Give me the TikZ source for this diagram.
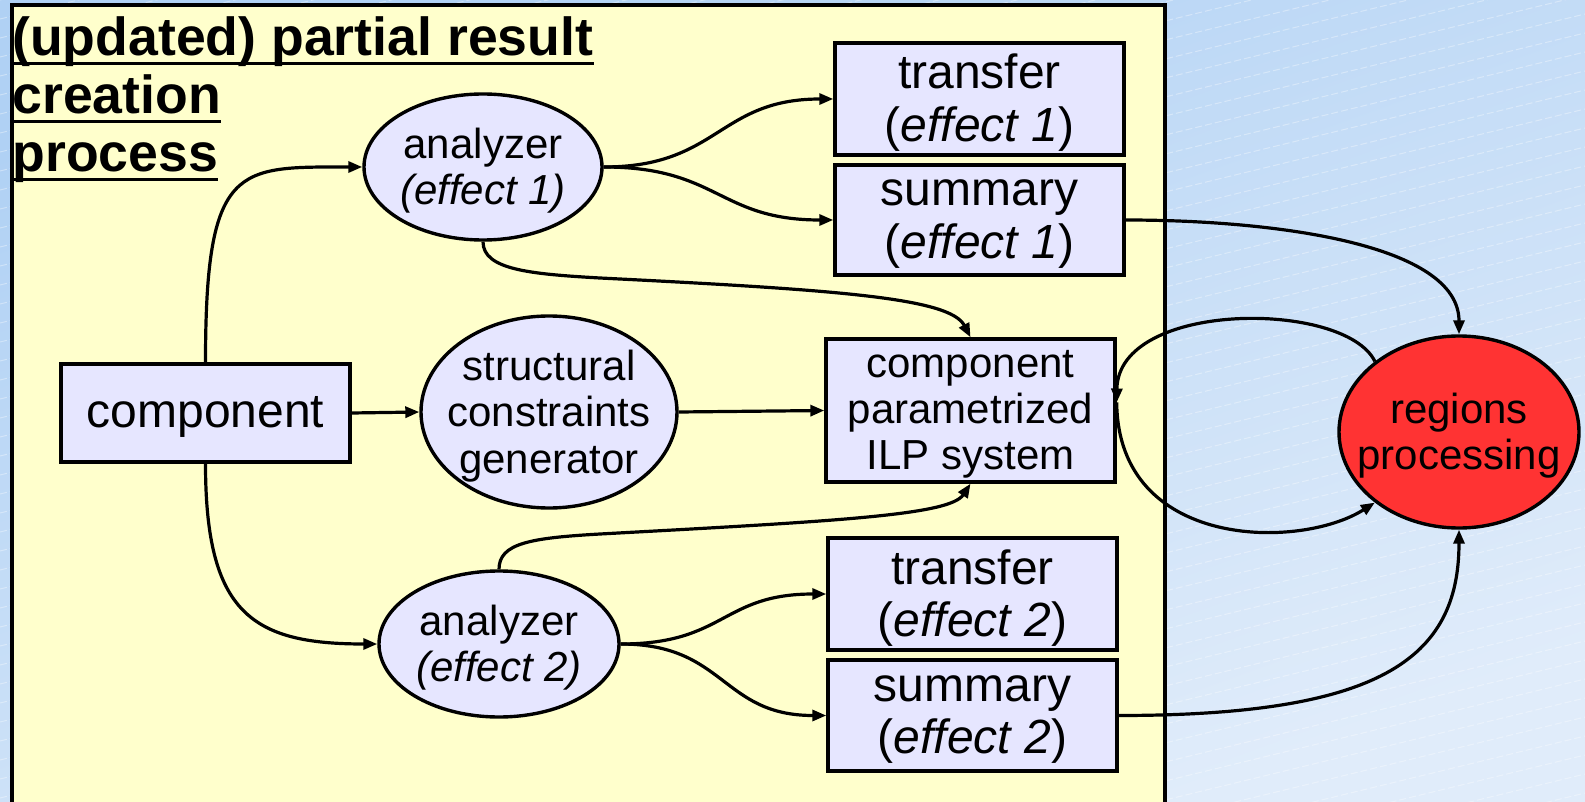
\documentclass[tikz,border=0pt]{standalone}
\usepackage{fontspec}
\setmainfont{Liberation Sans}
\usetikzlibrary{shapes.geometric,arrows.meta}

\definecolor{bgtop}{RGB}{176,209,244}
\definecolor{bgbot}{RGB}{224,236,250}
\definecolor{panel}{RGB}{255,255,204}
\definecolor{lav}{RGB}{230,230,255}
\definecolor{hot}{RGB}{255,51,51}

\begin{document}
\begin{tikzpicture}[
  x=0.5pt, y=-0.5pt,
  txtS/.style={font=\fontsize{21}{23.1}\selectfont, align=center, inner sep=0pt, yshift=-2pt},
  txtL/.style={font=\fontsize{24}{26.4}\selectfont, align=center, inner sep=0pt, yshift=-2pt},
  boxnode/.style={rectangle, draw, line width=1.7pt, fill=lav, inner sep=0pt,
                  minimum width=144.5pt},
  ellnode/.style={ellipse, draw, line width=1.7pt, fill=lav, inner sep=0pt},
  conn/.style={line width=1.6pt, -{Triangle[length=7pt,width=5.5pt]}},
  bgline/.style={white, opacity=0.35, line width=0.5pt, dash pattern=on 3.5pt off 1.5pt},
  heading/.style={font=\bfseries\fontsize{26.8}{29}\selectfont, anchor=base west, inner sep=0pt},
  uline/.style={line width=1.4pt}
]
\useasboundingbox (0,0) rectangle (1585,802);
\clip (0,0) rectangle (1585,802);

% slide background
\shade[top color=bgtop, bottom color=bgbot, shading angle=20] (0,0) rectangle (1585,802);
\foreach \k in {0,...,64} {
  \draw[bgline] (0,{\k*19}) -- (1585,{\k*19-385});
}

% process panel
\draw[line width=1.7pt, fill=panel] (12,5) rectangle (1165,830);

% heading
\node[heading] (h1) at (12,56) {(updated) partial result};
\node[heading] (h2) at (12,114) {creation};
\node[heading] (h3) at (12,172) {process};
\draw[uline] ([yshift=-3.6pt]h1.base west) -- ([yshift=-3.6pt]h1.base east);
\draw[uline] ([yshift=-3.6pt]h2.base west) -- ([yshift=-3.6pt]h2.base east);
\draw[uline] ([yshift=-3.6pt]h3.base west) -- ([yshift=-3.6pt]h3.base east);

% boxes
\node[boxnode, minimum height=49pt] (comp) at (205.5,413) {};
\node[txtL] (compt) at (comp) {component};
\node[boxnode, minimum height=56pt] (tr1) at (979.5,99) {};
\node[txtL] (tr1t) at (tr1) {transfer\\(\textit{effect 1})};
\node[boxnode, minimum height=55pt] (su1) at (979.5,220) {};
\node[txtL] (su1t) at (su1) {summary\\(\textit{effect 1})};
\node[boxnode, minimum height=71.5pt] (ilp) at (970.5,410.5) {};
\node[txtS] (ilpt) at (ilp) {component\\parametrized\\ILP system};
\node[boxnode, minimum height=56pt] (tr2) at (972.5,594) {};
\node[txtL] (tr2t) at (tr2) {transfer\\(\textit{effect 2})};
\node[boxnode, minimum height=55.5pt] (su2) at (972.5,715.5) {};
\node[txtL] (su2t) at (su2) {summary\\(\textit{effect 2})};

% ellipses
\node[ellnode, minimum width=119pt, minimum height=73pt] (an1) at (483,167) {};
\node[txtS] (an1t) at (an1) {analyzer\\\textit{(effect 1)}};
\node[ellnode, minimum width=128pt, minimum height=96pt] (scg) at (549,412) {};
\node[txtS] (scgt) at (scg) {structural\\constraints\\generator};
\node[ellnode, minimum width=120pt, minimum height=73pt] (an2) at (499,644) {};
\node[txtS] (an2t) at (an2) {analyzer\\\textit{(effect 2)}};
\node[ellnode, fill=hot, minimum width=120pt, minimum height=96pt] (rp) at (1459,432) {};
\node[txtS] (rpt) at (rp) {regions\\processing};

% connectors
\draw[conn] (comp.north) .. controls +(0,-200) and +(-125,0) .. (an1.west);
\draw[conn] (comp.south) .. controls +(0,150) and +(-125,0) .. (an2.west);
\draw[conn] (comp.east) -- (scg.west);
\draw[conn] (scg.east) -- (ilp.west);

\draw[conn] (an1.east) .. controls +(115,0) and +(-115,0) .. (tr1.west);
\draw[conn] (an1.east) .. controls +(115,0) and +(-115,0) .. (su1.west);
\draw[conn] (an2.east) .. controls +(105,0) and +(-105,0) .. (tr2.west);
\draw[conn] (an2.east) .. controls +(105,0) and +(-105,0) .. (su2.west);

\coordinate (m1) at (600,278);
\draw[conn] (an1.south) .. controls +(0,28) and (530,274) .. (m1)
  .. controls (840,290) and (950,298) .. (ilp.north);
\coordinate (m2) at (600,534);
\draw[conn] (an2.north) .. controls +(0,-26) and (530,538) .. (m2)
  .. controls (840,521) and (950,515) .. (ilp.south);

\draw[conn] (su1.east) .. controls +(150,0) and +(0,-90) .. (rp.north);
\draw[conn] (su2.east) .. controls +(260,0) and +(0,130) .. (rp.south);

\coordinate (ilpr) at ([yshift=4pt]ilp.east);
\draw[conn] (rp.140) .. controls (1345,300) and (1118,300) .. (ilpr);
\draw[conn] (ilpr) .. controls (1118,550) and (1300,550) .. (rp.220);
\end{tikzpicture}
\end{document}
